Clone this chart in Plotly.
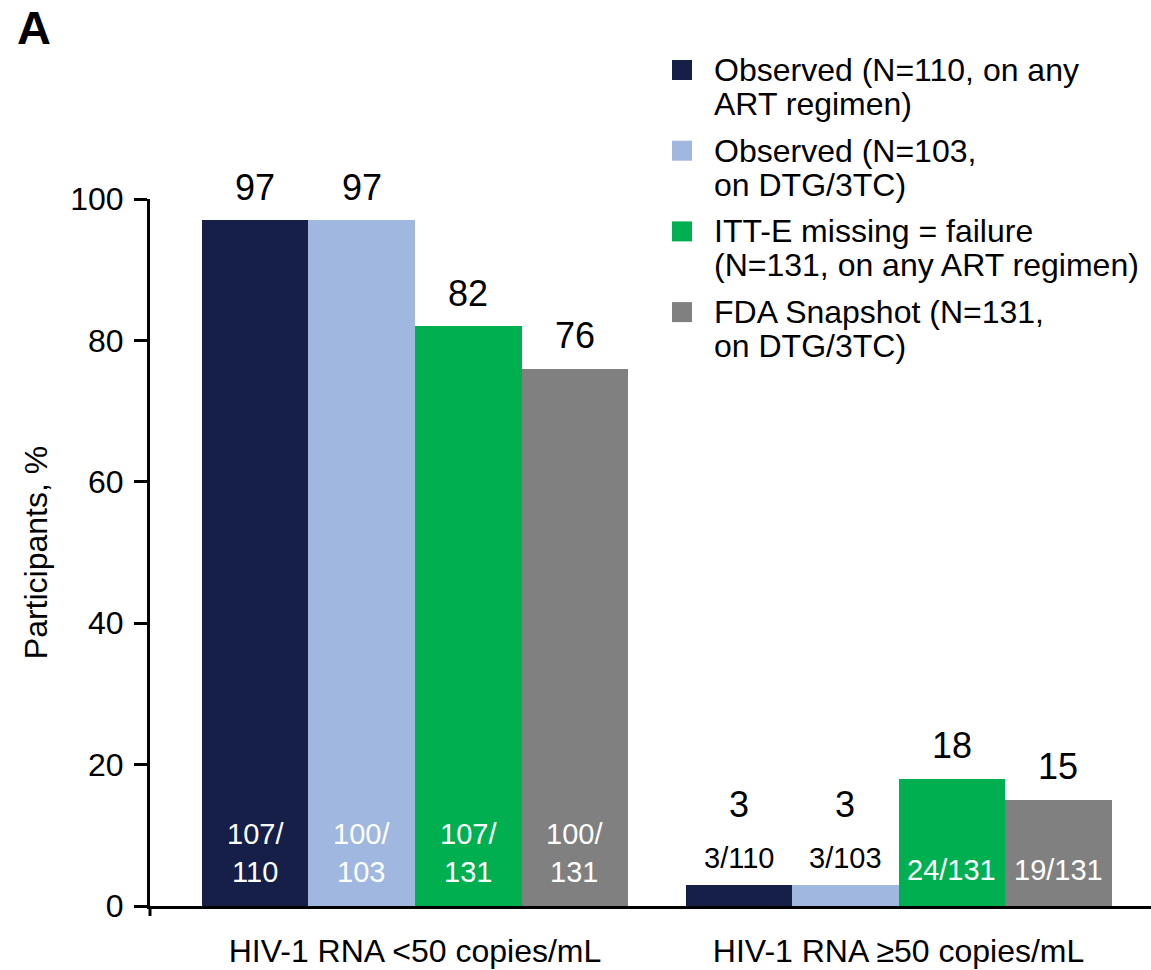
"""Virologic outcomes by analysis set: bars with % on top and n/N counts."""
import plotly.graph_objects as go

FONT = "Liberation Sans, Arial, sans-serif"

# ---- data -------------------------------------------------------------
GROUPS = ["HIV-1 RNA <50 copies/mL", "HIV-1 RNA \u226550 copies/mL"]
SERIES = [
    "Observed (N=110, on any<br>ART regimen)",
    "Observed (N=103,<br>on DTG/3TC)",
    "ITT-E missing = failure<br>(N=131, on any ART regimen)",
    "FDA Snapshot (N=131,<br>on DTG/3TC)",
]
COLORS = ["#161F48", "#A0B7DF", "#00B050", "#808080"]

# % of participants, one list per series, [<50, >=50]
PCT = [[97, 3], [97, 3], [82, 18], [76, 15]]
NUMER = [[107, 3], [100, 3], [107, 24], [100, 19]]
DENOM = [[110, 110], [103, 103], [131, 131], [131, 131]]

# ---- geometry ---------------------------------------------------------
W, H = 1151, 970
M_L, M_R, M_T, M_B = 150, 0, 199, 64
PLOT_W = W - M_L - M_R
PLOT_H = H - M_T - M_B
X_RANGE = [-0.548, 1.522]
BAR_W = 0.2203
N_SER = len(SERIES)
PX_PER_UNIT = PLOT_H / 100.0


def px(xp, yp):
    """pixel position in the page -> paper coordinates"""
    return (xp - M_L) / PLOT_W, (H - M_B - yp) / PLOT_H


def bar_x(g, i):
    return g + (i - (N_SER - 1) / 2) * BAR_W


fig = go.Figure()
for i, name in enumerate(SERIES):
    fig.add_trace(go.Bar(
        x=[bar_x(g, i) for g in range(len(GROUPS))],
        y=PCT[i], width=BAR_W, name=name,
        marker=dict(color=COLORS[i], line=dict(width=0)),
        showlegend=False, hoverinfo="skip",
    ))

ann = []
for i in range(N_SER):
    for g in range(len(GROUPS)):
        x = bar_x(g, i)
        v = PCT[i][g]
        num, den = NUMER[i][g], DENOM[i][g]
        frac = f"{num}/<br>{den}" if num >= 100 else f"{num}/{den}"
        inside = v * PX_PER_UNIT > 55
        if inside:
            two = "<br>" in frac
            ann.append(dict(x=x, y=0, xref="x", yref="y", text=frac,
                            showarrow=False, yanchor="middle",
                            yshift=53 if two else 36,
                            font=dict(size=29, color="white", family=FONT)))
            top_shift = 33
        else:
            # count sits on top of a short bar, % goes above it
            ann.append(dict(x=x, y=v, xref="x", yref="y", text=frac,
                            showarrow=False, yanchor="middle", yshift=27,
                            font=dict(size=29, color="black", family=FONT)))
            top_shift = 80
        ann.append(dict(x=x, y=v, xref="x", yref="y", text=str(v),
                        showarrow=False, yanchor="middle", yshift=top_shift,
                        font=dict(size=36, color="black", family=FONT)))

# legend, drawn by hand so the swatches and line spacing match
shapes = []
for i, name in enumerate(SERIES):
    cy = 70 + i * 80.7
    x0, y0 = px(672, cy - 10)
    x1, y1 = px(692, cy + 10)
    shapes.append(dict(type="rect", xref="paper", yref="paper",
                       x0=x0, x1=x1, y0=y0, y1=y1,
                       fillcolor=COLORS[i], line=dict(width=0)))
    for k, line in enumerate(name.split("<br>")):
        lx, ly = px(712, cy + k * 34)
        ann.append(dict(x=lx, y=ly, xref="paper", yref="paper", text=line,
                        showarrow=False, xanchor="left", yanchor="middle",
                        font=dict(size=32, color="black", family=FONT)))

# panel letter
ax_, ay_ = px(15, 27)
ann.append(dict(x=ax_, y=ay_, xref="paper", yref="paper", text="<b>A</b>",
                showarrow=False, xanchor="left", yanchor="middle",
                font=dict(size=47, color="black", family=FONT)))

# y axis line runs a little below zero (paper refs so it is not clipped)
shapes.append(dict(type="line", xref="paper", yref="paper", x0=0, x1=0,
                   y0=0, y1=-10 / PLOT_H,
                   line=dict(color="black", width=3)))

fig.update_layout(
    width=W, height=H,
    margin=dict(l=M_L, r=M_R, t=M_T, b=M_B, autoexpand=False),
    paper_bgcolor="white", plot_bgcolor="white",
    barmode="overlay", bargap=0,
    font=dict(family=FONT, color="black", size=32),
    annotations=ann, shapes=shapes,
    xaxis=dict(
        range=X_RANGE, tickvals=list(range(len(GROUPS))), ticktext=GROUPS,
        showgrid=False, zeroline=False, showline=True,
        linecolor="black", linewidth=3, ticks="",
        tickfont=dict(size=32), ticklabelstandoff=15,
    ),
    yaxis=dict(
        range=[0, 100], tickvals=[0, 20, 40, 60, 80, 100],
        showgrid=False, zeroline=False, showline=True,
        linecolor="black", linewidth=3,
        ticks="outside", ticklen=13, tickwidth=3, tickcolor="black",
        tickfont=dict(size=32), ticklabelstandoff=4,
        title=dict(text="Participants, %", font=dict(size=32), standoff=14),
    ),
)

fig.write_html("out.html", config={"displayModeBar": False},
               post_script="document.body.style.margin='0';")
